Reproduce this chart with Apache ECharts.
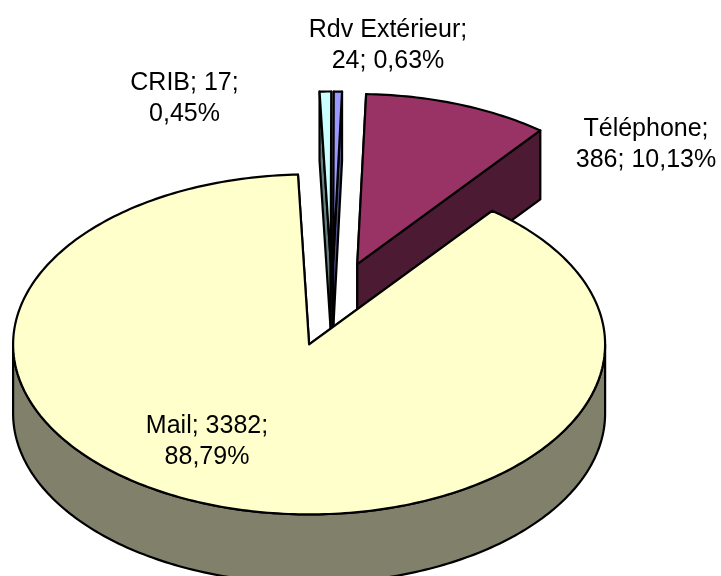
<!DOCTYPE html>
<html>
<head>
<meta charset="utf-8">
<title>Pie</title>
<style>
  html, body { margin: 0; padding: 0; background: #fff; }
  #chart { width: 721px; height: 576px; }
</style>
<script src="https://cdn.jsdelivr.net/npm/echarts@6/dist/echarts.min.js"></script>
</head>
<body>
<div id="chart"></div>
<script>
// données, dans le sens horaire
const names = ["Mail", "Rdv Extérieur", "CRIB", "Téléphone"];
const values = [3382, 24, 17, 386];
const labels = ["Mail; 3382;\n88,79%", "Rdv Extérieur;\n24; 0,63%", "CRIB; 17;\n0,45%", "Téléphone;\n386; 10,13%"];
const topColors = ["#FFFFCC", "#CCFFFF", "#9999FF", "#993366"];
const sideColors = ["#80806B", "#668080", "#4D4D80", "#4D1A33"];

// projection du camembert 3D
const cx = 332, cy = 304, rx = 296, ry = 170, depth = 69;
const explode = 0.25;
const startDeg = 38.2;
const labelAnchors = [[388, 46], [184.5, 99], [646, 145]];
const mailAnchor = [207, 441.5];
const drawOrder = [3, 2, 1, 0];

const total = values.reduce((a, b) => a + b, 0);
const rad = (d) => (d * Math.PI) / 180;

// bornes angulaires de chaque part
const spans = [];
let cur = startDeg;
values.forEach((v) => {
  const sweep = (v / total) * 360;
  spans.push([cur, cur + sweep]);
  cur += sweep;
});

function point(ox, oy, deg) {
  return [ox + rx * Math.sin(rad(deg)), oy - ry * Math.cos(rad(deg))];
}

function arc(ox, oy, from, to) {
  const pts = [];
  const n = Math.max(2, Math.ceil((to - from) / 1));
  for (let i = 0; i <= n; i++) pts.push(point(ox, oy, from + ((to - from) * i) / n));
  return pts;
}

function shape(points, fill) {
  return {
    type: "polygon",
    shape: { points: points },
    style: { fill: fill, stroke: "#000", lineWidth: 2.2, lineJoin: "round" },
  };
}

function renderSlice(params, api) {
  const i = drawOrder[params.dataIndex];
  const [a0, a1] = spans[i];
  const mid = (a0 + a1) / 2;
  const ox = cx + explode * rx * Math.sin(rad(mid));
  const oy = cy - explode * ry * Math.cos(rad(mid));
  const children = [];
  const p0 = point(ox, oy, a0);
  const p1 = point(ox, oy, a1);

  // faces radiales
  children.push(shape([[ox, oy], p0, [p0[0], p0[1] + depth], [ox, oy + depth]], sideColors[i]));
  children.push(shape([[ox, oy], p1, [p1[0], p1[1] + depth], [ox, oy + depth]], sideColors[i]));

  // paroi extérieure, seulement la moitié avant
  const from = Math.max(a0, 90);
  const to = Math.min(a1, 270);
  if (to > from) {
    const upper = arc(ox, oy, from, to);
    const lower = upper.map((p) => [p[0], p[1] + depth]).reverse();
    children.push(shape(upper.concat(lower), sideColors[i]));
  }

  // dessus
  children.push(shape([[ox, oy]].concat(arc(ox, oy, a0, a1)), topColors[i]));

  return { type: "group", children: children };
}

function renderLabel(params) {
  const p = params.dataIndex === 0 ? mailAnchor : labelAnchors[params.dataIndex - 1];
  return {
    type: "text",
    x: p[0],
    y: p[1],
    style: {
      text: labels[params.dataIndex],
      fill: "#000",
      font: "25px 'Liberation Sans', Arial, sans-serif",
      lineHeight: 31,
      align: "center",
      verticalAlign: "middle",
    },
  };
}

const myChart = echarts.init(document.getElementById("chart"), null, { renderer: "canvas" });
myChart.setOption({
  animation: false,
  series: [
    {
      type: "custom",
      coordinateSystem: "none",
      name: "parts",
      data: drawOrder.map((i) => values[i]),
      renderItem: renderSlice,
      silent: true,
    },
    {
      type: "custom",
      coordinateSystem: "none",
      name: "etiquettes",
      data: names,
      renderItem: renderLabel,
      silent: true,
      z: 5,
    },
  ],
});
</script>
</body>
</html>
